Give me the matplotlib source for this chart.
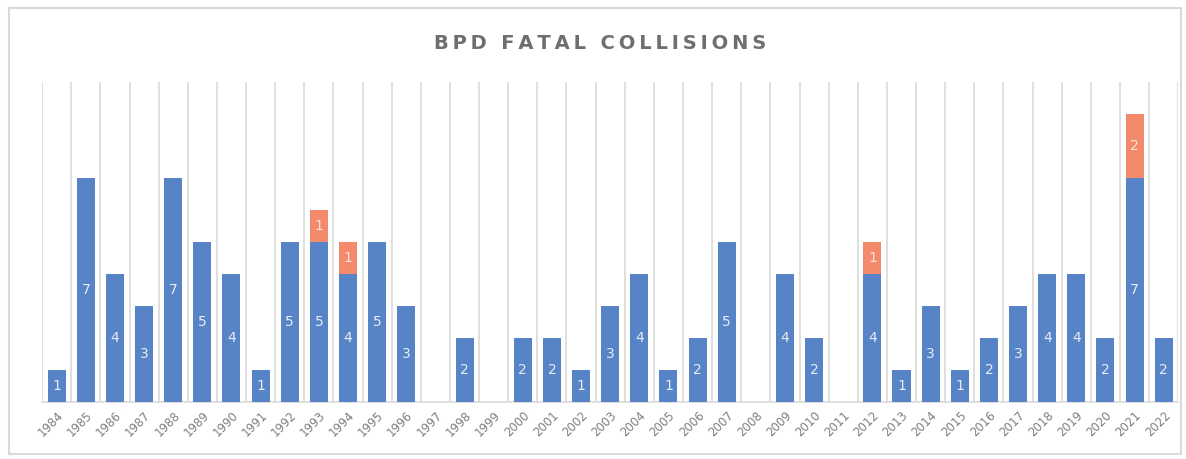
import matplotlib.pyplot as plt
import numpy as np
from matplotlib.patches import Rectangle

years = [str(y) for y in range(1984, 2023)]
base = [1, 7, 4, 3, 7, 5, 4, 1, 5, 5, 4, 5, 3, 0, 2, 0, 2, 2, 1, 3,
        4, 1, 2, 5, 0, 4, 2, 0, 4, 1, 3, 1, 2, 3, 4, 4, 2, 7, 2]
extra = [0, 0, 0, 0, 0, 0, 0, 0, 0, 1, 1, 0, 0, 0, 0, 0, 0, 0, 0, 0,
         0, 0, 0, 0, 0, 0, 0, 0, 1, 0, 0, 0, 0, 0, 0, 0, 0, 2, 0]

blue = "#5784C6"
orange = "#F38A6C"
grid_col = "#D9D9D9"
text_col = "#7F7F7F"

fig = plt.figure(figsize=(11.86, 4.59), dpi=100)
# outer chart border
fig.patches.append(Rectangle((0.008, 0.01), 0.988, 0.972, transform=fig.transFigure,
                             fill=False, edgecolor=grid_col, linewidth=1.5))

ax = fig.add_axes([0.0355, 0.124, 0.958, 0.697])
x = np.arange(len(years))
w = 0.62
ax.bar(x, base, width=w, color=blue, linewidth=0, zorder=3)
ax.bar(x, extra, width=w, bottom=base, color=orange, linewidth=0, zorder=3)

for i in x:
    if base[i] > 0:
        ax.text(i, base[i] / 2, str(base[i]), ha="center", va="center",
                color="#E6ECF6", fontsize=10, zorder=4)
    if extra[i] > 0:
        ax.text(i, base[i] + extra[i] / 2, str(extra[i]), ha="center", va="center",
                color="#FBE3DB", fontsize=10, zorder=4)

ax.set_xlim(-0.5, len(years) - 0.5)
ax.set_ylim(0, 10)
for b in np.arange(-0.5, len(years), 1.0):
    ax.axvline(b, color=grid_col, linewidth=1.2, zorder=1)

ax.set_xticks(x)
ax.set_xticklabels(years, rotation=45, ha="right", rotation_mode="anchor",
                   color=text_col, fontsize=8.5)
ax.tick_params(axis="x", length=0, pad=5)
ax.set_yticks([])
for s in ["top", "left", "right"]:
    ax.spines[s].set_visible(False)
ax.spines["bottom"].set_color(grid_col)
ax.spines["bottom"].set_linewidth(1.2)

title = "BPD FATAL COLLISIONS"
fig.text(0.506, 0.905, "\u2009".join(title), ha="center", va="center",
         fontsize=14, fontweight="bold", color="#6E6E6E")

fig.savefig("out.png", dpi=100)
